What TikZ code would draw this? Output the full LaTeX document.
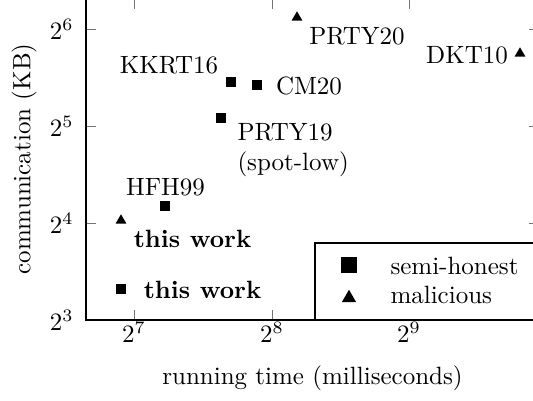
\documentclass[tikz,border=0pt]{standalone}
\usetikzlibrary{shapes.geometric}
\tikzset{
  sq/.style={rectangle, fill=black, inner sep=0pt, minimum size=4.2pt},
  tri/.style={regular polygon, regular polygon sides=3, fill=black, inner sep=0pt, minimum size=5pt},
  lsq/.style={sq, minimum size=6.2pt},
  ltri/.style={tri, minimum size=6.6pt},
  lbl/.style={inner sep=0pt},
  tk/.style={black!55, line width=0.4pt},
  frame/.style={black, line width=0.5pt},
}
\begin{document}
\begin{tikzpicture}[x=0.4pt, y=-0.4pt]
\useasboundingbox (0,0) rectangle (533,400);
\clip (0,0) rectangle (533,400);
\fill[white] (0,0) rectangle (533,400);
% axis frame corners
\coordinate (ll) at (86,320);
\coordinate (ur) at (539,-1);
% ticks
\foreach \x in {134,272,409}{
  \draw[tk] (\x,320) -- (\x,310);
  \draw[tk] (\x,-1) -- (\x,9);
}
\foreach \y in {29,126,223}{
  \draw[tk] (86,\y) -- (96,\y);
  \draw[tk] (539,\y) -- (529,\y);
}
\draw[frame] (ll) rectangle (ur);
% tick labels
\node[lbl, anchor=east] (y6) at (74,29) {$2^{6}$};
\node[lbl, anchor=east] (y5) at (74,126) {$2^{5}$};
\node[lbl, anchor=east] (y4) at (74,223) {$2^{4}$};
\node[lbl, anchor=east] (y3) at (74,320) {$2^{3}$};
\node[lbl] (x7) at (134,332) {$2^{7}$};
\node[lbl] (x8) at (272,332) {$2^{8}$};
\node[lbl] (x9) at (409,332) {$2^{9}$};
% axis labels
\node[lbl, rotate=90] (ylab) at (24,159) {communication (KB)};
\node[lbl] (xlab) at (312.5,378) {running time (milliseconds)};
% data points
\node[tri] (prty20) at (297,17.5) {};
\node[tri] (dkt10) at (520,53.5) {};
\node[sq] (kkrt16) at (231,82) {};
\node[sq] (cm20) at (257,85) {};
\node[sq] (prty19) at (221,118) {};
\node[sq] (hfh99) at (165,206) {};
\node[tri] (thistri) at (121,220.5) {};
\node[sq] (thissq) at (121,289) {};
% point labels
\node[lbl] (tprty20) at (357,36) {PRTY20};
\node[lbl] (tdkt10) at (467,55) {DKT10};
\node[lbl] (tkkrt16) at (169,65) {KKRT16};
\node[lbl] (tcm20) at (309,86) {CM20};
\node[lbl, align=left, anchor=north west] (tprty19) at (237,123) {PRTY19\\(spot-low)};
\node[lbl] (thfh99) at (165.5,187) {HFH99};
\node[lbl, font=\bfseries] (tthistri) at (192.5,239) {this work};
\node[lbl, font=\bfseries] (tthissq) at (202.5,290) {this work};
% legend
\draw[frame, fill=white] (315,243) rectangle (545,320);
\node[lsq] (legsq) at (349,265) {};
\node[ltri] (legtri) at (349,298) {};
\node[lbl, anchor=west] (legsqt) at (390,266) {semi-honest};
\node[lbl, anchor=west] (legtrit) at (390,294.5) {malicious};
\end{tikzpicture}
\end{document}
